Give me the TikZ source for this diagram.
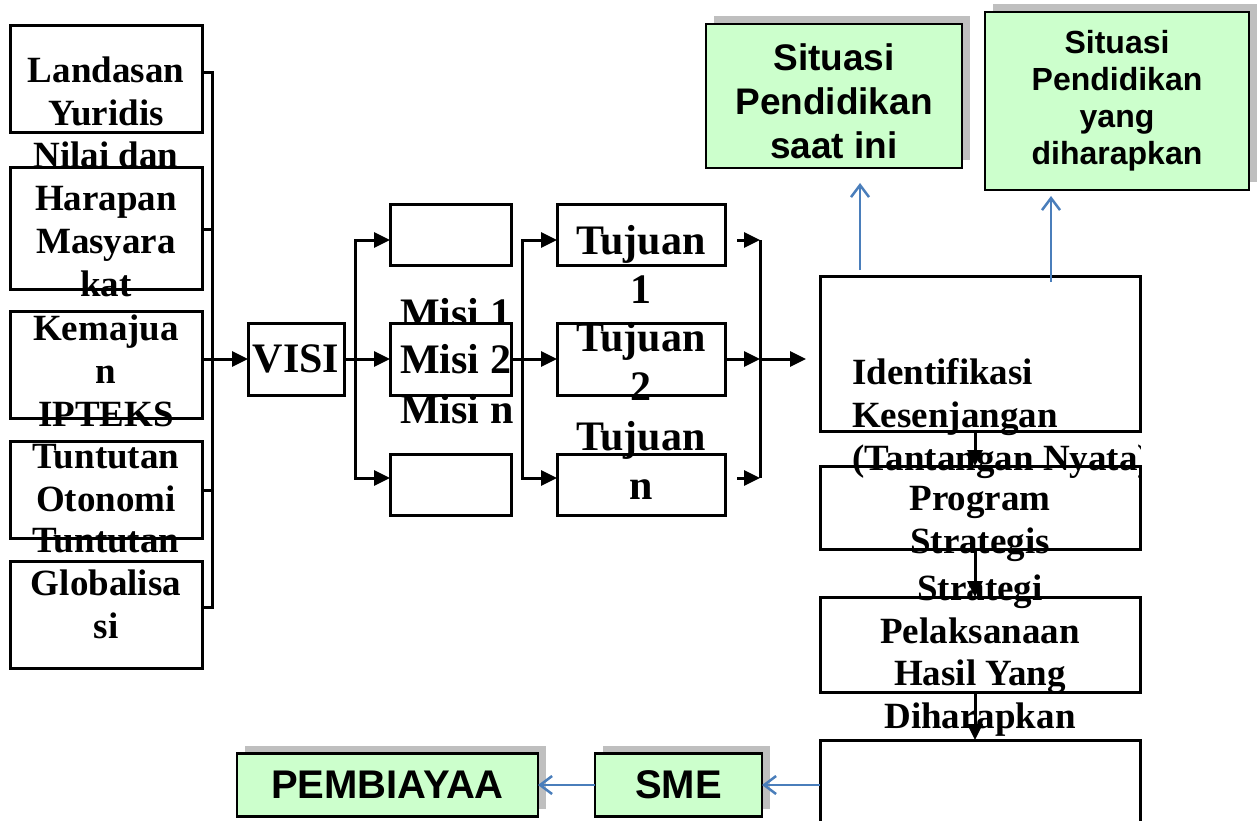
\documentclass[tikz,border=0pt]{standalone}
\usepackage{fontspec}
\setmainfont{Liberation Serif}
\newfontfamily\arialfont{Liberation Sans}
\usepackage{tikz}
\usetikzlibrary{positioning, arrows.meta, calc, shadows}

\definecolor{boxgreen}{HTML}{CCFFCC}
\definecolor{arrblue}{HTML}{4A7EBB}
\definecolor{shadowgray}{HTML}{BFBFBF}

\begin{document}
\begin{tikzpicture}[
    x=1pt, y=-1pt,
    box/.style={rectangle, draw, line width=3pt, inner sep=0pt, outer sep=0pt, minimum width=#1},
    box/.default=192pt,
    gbox/.style={rectangle, draw, line width=2.5pt, fill=boxgreen, inner sep=0pt, outer sep=0pt, align=center,
        drop shadow={shadow xshift=8pt, shadow yshift=8pt, fill=shadowgray, opacity=1}},
    lbl/.style={font=\bfseries\fontsize{37}{43}\selectfont, align=center, inner sep=0pt},
    blbl/.style={font=\bfseries\fontsize{42}{49}\selectfont, align=center, inner sep=0pt},
    arr/.style={-{Triangle[length=16pt, width=15pt]}, line width=3pt},
    darr/.style={{Triangle[length=16pt, width=15pt]}-{Triangle[length=16pt, width=15pt]}, line width=3pt},
    ln/.style={line width=3pt},
    barr/.style={-{Straight Barb[length=12pt, width=18pt]}, line width=2.5pt, draw=arrblue},
]
\useasboundingbox (0,0) rectangle (1260,821);
\clip (0,0) rectangle (1260,821);

% Left column
\node[box, minimum height=107pt] (lan) at (106,79.5) {};
\node[box, minimum height=121pt] (nil) at (106,228.5) {};
\node[box, minimum height=107pt] (kem) at (106,364.5) {};
\node[box, minimum height=97pt] (oto) at (106,489.5) {};
\node[box, minimum height=107pt] (glo) at (106,614.5) {};
\node[lbl] (lanT) at (106,91) {Landasan\\Yuridis};
\node[lbl] (nilT) at (106,219.5) {Nilai dan\\Harapan\\Masyara\\kat};
\node[lbl] (kemT) at (106,370.5) {Kemajua\\n\\IPTEKS};
\node[lbl] (otoT) at (106,478) {Tuntutan\\Otonomi};
\node[lbl] (gloT) at (106,584) {Tuntutan\\Globalisa\\si};

\coordinate (busL1) at (212,73);
\coordinate (busL2) at (212,229);
\coordinate (busL4) at (212,490);
\coordinate (busL5) at (212,607);
\draw[ln] (lan.east |- busL1) -- (busL1) -- (busL5) -- (glo.east |- busL5);
\draw[ln] (nil.east |- busL2) -- (busL2);
\draw[ln] (oto.east |- busL4) -- (busL4);

% Visi
\node[box=96pt, minimum height=72pt, blbl] (visi) at (296,359) {VISI};
\draw[arr] (kem.east |- visi) -- (visi.west);

% Misi
\node[blbl, anchor=west] (mis1T) at (400,313) {Misi 1};
\node[box=121pt, minimum height=61pt] (mis1) at (450.5,234.5) {};
\node[box=121pt, minimum height=72pt, fill=white] (mis2) at (450.5,359) {};
\node[box=121pt, minimum height=61pt] (mis3) at (450.5,484.5) {};
\node[blbl, anchor=west] (mis2T) at (400,359) {Misi 2};
\node[blbl, anchor=west] (mis3T) at (400,409) {Misi n};

\coordinate (busV1) at (355,240);
\coordinate (busV3) at (355,478);
\draw[darr] (mis1.west |- busV1) -- (busV1) -- (busV3) -- (mis3.west |- busV3);
\draw[arr] (visi.east) -- (mis2.west);

% Tujuan
\node[box=168pt, minimum height=61pt] (tuj1) at (641,234.5) {};
\node[box=168pt, minimum height=72pt] (tuj2) at (641,359) {};
\node[box=168pt, minimum height=61pt] (tuj3) at (641,484.5) {};
\node[blbl] (tuj1T) at (641,264) {Tujuan\\1};
\node[blbl] (tuj2T) at (641,361) {Tujuan\\2};
\node[blbl] (tuj3T) at (641,460) {Tujuan\\n};

\coordinate (busT1) at (522,240);
\coordinate (busT3) at (522,478);
\draw[darr] (tuj1.west |- busT1) -- (busT1) -- (busT3) -- (tuj3.west |- busT3);
\draw[arr] (mis2.east) -- (tuj2.west);

\coordinate (stub1) at (737,240);
\coordinate (stub3) at (737,478);
\coordinate (busR1) at (760,240);
\coordinate (busR2) at (760,359);
\coordinate (busR3) at (760,478);
\coordinate (idnIn) at (806,359);
\draw[ln] (busR1) -- (busR3);
\draw[arr] (stub1) -- (busR1);
\draw[arr] (stub3) -- (busR3);
\draw[arr] (tuj2.east) -- (busR2);
\draw[arr] (busR2) -- (idnIn);

% Right column
\node[box=320pt, minimum height=155pt] (idn) at (980,353.5) {};
\node[box=320pt, minimum height=83pt] (prg) at (980,507.5) {};
\node[box=320pt, minimum height=95pt] (str) at (980,644.5) {};
\node[box=320pt, minimum height=90pt] (has) at (980,785) {};
\begin{scope}
  \clip (idn.west |- 0,0) rectangle (idn.east |- 0,821);
  \node[lbl, align=left, anchor=west] (idnT) at (852,419) {Identifikasi\\Kesenjangan\\(Tantangan Nyata)};
\end{scope}
\node[lbl] (prgT) at (980,523.5) {Program\\Strategis};
\node[lbl] (strT) at (980,609.5) {Strategi\\Pelaksanaan};
\node[lbl] (hasT) at (980,698.5) {Hasil Yang\\Diharapkan};

\draw[arr] ([xshift=-5pt]idn.south) -- ([xshift=-5pt]prg.north);
\draw[arr] ([xshift=-5pt]prg.south) -- ([xshift=-5pt]str.north);
\draw[arr] ([xshift=-5pt]str.south) -- ([xshift=-5pt]has.north);

% Situasi
\node[gbox, minimum width=256pt, minimum height=144pt] (sit1) at (834,96) {};
\node[font=\arialfont\bfseries\fontsize{37}{44}\selectfont, align=center, inner sep=0pt] (sit1T) at (834,101) {Situasi\\Pendidikan\\saat ini};
\node[gbox, minimum width=264pt, minimum height=178pt, font=\arialfont\bfseries\fontsize{32}{37}\selectfont] (sit2) at (1117,101) {Situasi\\Pendidikan\\yang\\diharapkan};

\coordinate (sit1Out) at (860,270);
\coordinate (sit1In) at (860,183);
\coordinate (sit2Out) at (1051,282);
\coordinate (sit2In) at (1051,196);
\draw[barr] (sit1Out) -- (sit1In);
\draw[barr] (sit2Out) -- (sit2In);

% Bottom row
\node[gbox, minimum width=301pt, minimum height=63pt, font=\arialfont\bfseries\fontsize{40}{46}\selectfont] (pem) at (387.5,785) {PEMBIAYAA};
\node[gbox, minimum width=167pt, minimum height=63pt, font=\arialfont\bfseries\fontsize{40}{46}\selectfont] (sme) at (678.5,785) {SME};
\draw[barr] (has.west) -- (sme.east);
\draw[barr] (sme.west) -- (pem.east);

\end{tikzpicture}
\end{document}
